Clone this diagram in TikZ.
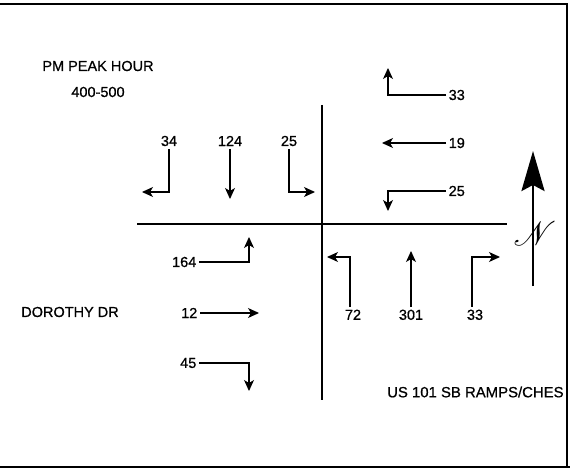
\documentclass[tikz,border=0pt]{standalone}
\usepackage{fontspec}
\setmainfont{Liberation Sans}[FakeBold=0.7]
\usepackage{amsmath}
\usepackage{mathrsfs}
\usetikzlibrary{arrows.meta}

\begin{document}
\begin{tikzpicture}[
    x=1pt, y=-1pt,
    % etiquetas de volumen y nombres de calles
    etiqueta/.style={inner sep=2.5pt, font=\fontsize{14.5}{16}\selectfont},
    calle/.style={inner sep=0pt, font=\fontsize{14.5}{16}\selectfont},
    % flechas de giro
    giro/.style={-{Stealth[length=11pt, width=10pt, inset=3pt]}, line width=1.1pt},
    via/.style={line width=1.5pt},
    marco/.style={line width=1.8pt}
]
    \useasboundingbox (0,0) rectangle (570,473);

    % --- MARCO ---
    \draw[marco] (0,4) -- (567,4) -- (567,467);
    \draw[marco] (0,467) -- (570,467);

    % --- TITULO ---
    \node[calle] (titulo) at (98,66) {PM PEAK HOUR};
    \node[calle] (hora) at (98,92) {400-500};

    % --- VIAS ---
    \draw[via] (137,224) -- (507,224);
    \draw[via] (322,105) -- (322,400);

    % --- ACCESO NORTE ---
    \node[etiqueta] (n34)  at (169,141) {34};
    \node[etiqueta] (n124) at (230,141) {124};
    \node[etiqueta] (n25)  at (289,141) {25};
    \coordinate (tn34)  at (142,192);
    \coordinate (tn124) at (230,199);
    \coordinate (tn25)  at (315,192);
    \draw[giro] (n34.south)  |- (tn34);
    \draw[giro] (n124.south) -- (tn124);
    \draw[giro] (n25.south)  |- (tn25);

    % --- ACCESO ESTE ---
    \node[etiqueta, anchor=west] (e33) at (446,95)  {33};
    \node[etiqueta, anchor=west] (e19) at (446,143) {19};
    \node[etiqueta, anchor=west] (e25) at (446,191) {25};
    \coordinate (te33) at (388,68);
    \coordinate (te19) at (382,143);
    \coordinate (te25) at (388,211);
    \draw[giro] (e33.west) -| (te33);
    \draw[giro] (e19.west) -- (te19);
    \draw[giro] (e25.west) -| (te25);

    % --- ACCESO OESTE ---
    \node[etiqueta, anchor=east] (o164) at (199,262) {164};
    \node[etiqueta, anchor=east] (o12)  at (200,313) {12};
    \node[etiqueta, anchor=east] (o45)  at (199,363) {45};
    \coordinate (to164) at (249,237);
    \coordinate (to12)  at (259,313);
    \coordinate (to45)  at (249,391);
    \draw[giro] (o164.east) -| (to164);
    \draw[giro] (o12.east)  -- (to12);
    \draw[giro] (o45.east)  -| (to45);

    % --- ACCESO SUR ---
    \node[etiqueta, anchor=north] (s72)  at (353,307) {72};
    \node[etiqueta, anchor=north] (s301) at (411,307) {301};
    \node[etiqueta, anchor=north] (s33)  at (475,307) {33};
    \coordinate (ts72)  at (327,257);
    \coordinate (ts301) at (411,251);
    \coordinate (ts33)  at (500,257);
    \draw[giro] ([xshift=-3pt]s72.north) |- (ts72);
    \draw[giro] (s301.north) -- (ts301);
    \draw[giro] ([xshift=-3pt]s33.north) |- (ts33);

    % --- NOMBRES DE CALLES ---
    \node[calle] (dorothy) at (70,312) {DOROTHY DR};
    \node[calle, anchor=west, font=\fontsize{14.9}{17}\selectfont] (rampas) at (387,392) {US 101 SB RAMPS/CHES};

    % --- NORTE ---
    \coordinate (pieNorte) at (533,286);
    \coordinate (puntaNorte) at (533,151);
    \draw[line width=2.6pt, -{Stealth[length=40pt, width=23pt, inset=6pt]}] (pieNorte) -- (puntaNorte);
    \node[inner sep=0pt, scale=3.4] (norte) at (535,234) {$\mathscr{N}$};
\end{tikzpicture}
\end{document}
